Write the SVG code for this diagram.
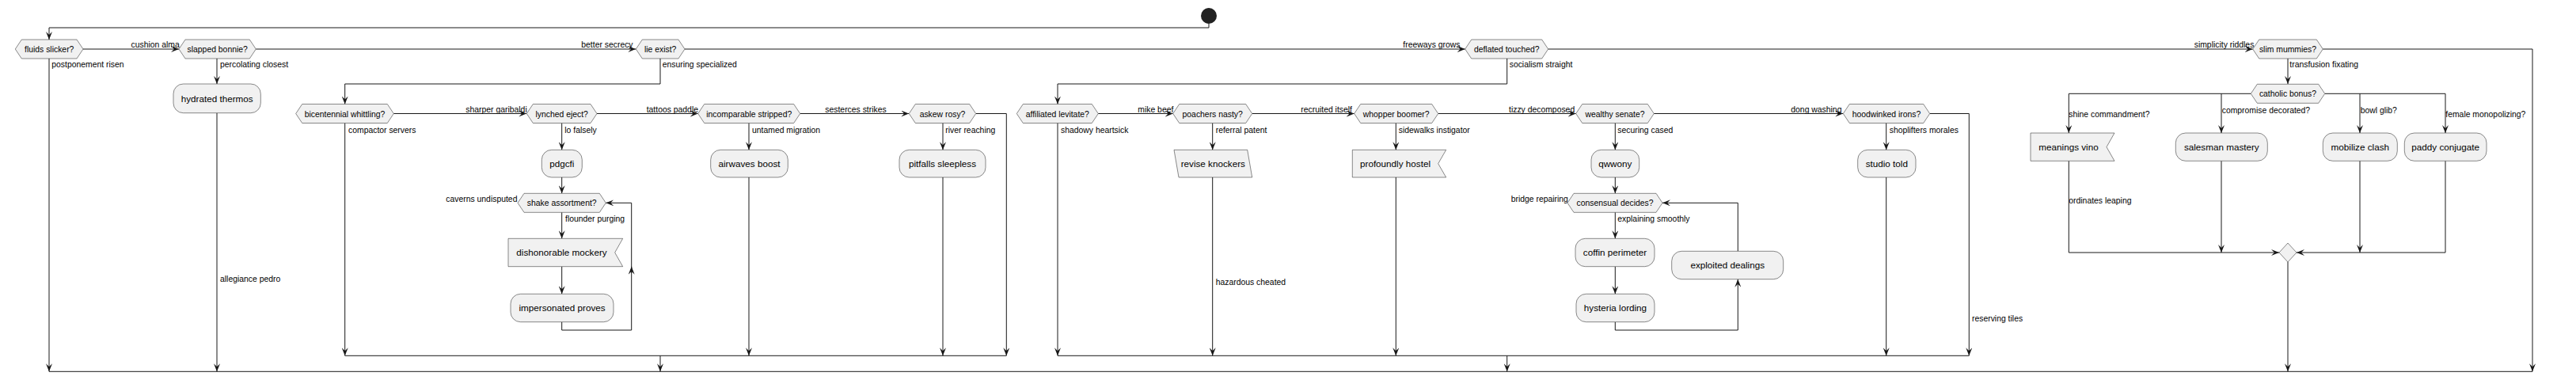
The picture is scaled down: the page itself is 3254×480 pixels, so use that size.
<svg xmlns="http://www.w3.org/2000/svg" width="3254" height="480" viewBox="0 0 3254 480">
<defs>
<marker id="ah" viewBox="0 0 10 8" refX="10" refY="4" markerWidth="10" markerHeight="8" markerUnits="userSpaceOnUse" orient="auto">
<path d="M0,0 L10,4 L0,8 L4,4 Z" fill="#181818"/>
</marker>
<style>
.n{fill:#F1F1F1;stroke:#181818;stroke-width:0.5}
.c path{fill:none;stroke:#181818;stroke-width:1}
.a{marker-end:url(#ah)}
text{font-family:"Liberation Sans",Arial,sans-serif;fill:#000}
.t12{font-size:11.7px;text-anchor:middle}
.t11{font-size:10.4px;text-anchor:middle}
.l{font-size:10.4px}
</style>
</defs>
<rect width="3254" height="480" fill="#fff"/>

<g id="connectors" class="c">
<path class="a" d="M1527,30 V35 H62 V50"/>
<path class="a" d="M105,62 H226"/>
<path class="a" d="M323.3,62 H803.3"/>
<path class="a" d="M865,62 H1850.7"/>
<path class="a" d="M1955.7,62 H2845.7"/>
<path class="a" d="M2934.3,62 H3199 V469.3"/>
<path class="a" d="M62,74 V469.3"/>
<path class="a" d="M274,74 V106"/>
<path class="a" d="M274,142.7 V469.3"/>
<path d="M62,469.3 H3199"/>
<path class="a" d="M834,74 V106 H435.7 V131.5"/>
<path class="a" d="M435.7,155.5 V449.3"/>
<path d="M435.7,449.3 H1271.3"/>
<path class="a" d="M834,449.3 V469.3"/>
<path class="a" d="M497.3,143.5 H665.3"/>
<path class="a" d="M709.7,155.5 V189.3"/>
<path class="a" d="M709.7,224 V244.3"/>
<path class="a" d="M709.7,268.3 V301.3"/>
<path class="a" d="M709.7,336.7 V371.3"/>
<path class="a" d="M709.7,406.7 V417 H797.7 V256.3 H765.3"/>
<path class="a" d="M797.7,345 V336.7"/>
<path class="a" d="M754,143.5 H881.7"/>
<path class="a" d="M946,155.5 V189.3"/>
<path class="a" d="M946,224 V449.3"/>
<path class="a" d="M1010.7,143.5 H1148.3"/>
<path class="a" d="M1191,155.5 V189.3"/>
<path class="a" d="M1191,224 V449.3"/>
<path class="a" d="M1232.7,143.5 H1271.3 V449.3"/>
<path class="a" d="M1903.7,74 V106 H1336 V131.5"/>
<path class="a" d="M1336,155.5 V449.3"/>
<path d="M1336,449.3 H2487.3"/>
<path class="a" d="M1903.7,449.3 V469.3"/>
<path class="a" d="M1387.3,143.5 H1481.7"/>
<path class="a" d="M1531.7,155.5 V189.3"/>
<path class="a" d="M1531.7,224 V449.3"/>
<path class="a" d="M1581.7,143.5 H1710.7"/>
<path class="a" d="M1763.3,155.5 V189.3"/>
<path class="a" d="M1763.3,224 V449.3"/>
<path class="a" d="M1816.7,143.5 H1990.7"/>
<path class="a" d="M2040.3,155.5 V189.3"/>
<path class="a" d="M2040.3,224 V244.3"/>
<path class="a" d="M2040.3,268.3 V301.3"/>
<path class="a" d="M2040.3,336.7 V371.3"/>
<path class="a" d="M2040.3,406.7 V417 H2195.3 V352.7"/>
<path class="a" d="M2195.3,317.3 V256.3 H2100"/>
<path class="a" d="M2089.3,143.5 H2328.3"/>
<path class="a" d="M2382.7,155.5 V189.3"/>
<path class="a" d="M2382.7,224 V449.3"/>
<path class="a" d="M2437.7,143.5 H2487.3 V449.3"/>
<path class="a" d="M2890,74 V106"/>
<path class="a" d="M2843.3,118.3 H2613.3 V168"/>
<path class="a" d="M2806,118.3 V168"/>
<path class="a" d="M2936.7,118.3 H3089 V168"/>
<path class="a" d="M2981,118.3 V168"/>
<path class="a" d="M2613.3,203.3 V319 H2879"/>
<path class="a" d="M2806,203.3 V319"/>
<path class="a" d="M2981,203.3 V319"/>
<path class="a" d="M3089,203.3 V319 H2901"/>
<path class="a" d="M2890,331 V469.3"/>
</g>

<g id="edge-labels">
<text class="l" x="165.5" y="60">cushion alma</text>
<text class="l" x="734.3" y="60">better secrecy</text>
<text class="l" x="1772.3" y="60">freeways grows</text>
<text class="l" x="2771.7" y="60">simplicity riddles</text>
<text class="l" x="65.3" y="85">postponement risen</text>
<text class="l" x="278" y="85">percolating closest</text>
<text class="l" x="278" y="356">allegiance pedro</text>
<text class="l" x="836.7" y="85">ensuring specialized</text>
<text class="l" x="440" y="167.5">compactor servers</text>
<text class="l" x="588.3" y="141.5">sharper garibaldi</text>
<text class="l" x="713.3" y="167.5">lo falsely</text>
<text class="l" x="714" y="280">flounder purging</text>
<text class="l" x="563.3" y="254.5">caverns undisputed</text>
<text class="l" x="816.7" y="141.5">tattoos paddle</text>
<text class="l" x="950" y="167.5">untamed migration</text>
<text class="l" x="1042.3" y="141.5">sesterces strikes</text>
<text class="l" x="1194.3" y="167.5">river reaching</text>
<text class="l" x="1906.7" y="85">socialism straight</text>
<text class="l" x="1340" y="167.5">shadowy heartsick</text>
<text class="l" x="1437.3" y="141.5">mike beef</text>
<text class="l" x="1535.7" y="167.5">referral patent</text>
<text class="l" x="1535.7" y="360">hazardous cheated</text>
<text class="l" x="1643.3" y="141.5">recruited itself</text>
<text class="l" x="1766.7" y="167.5">sidewalks instigator</text>
<text class="l" x="1906" y="141.5">tizzy decomposed</text>
<text class="l" x="2043.3" y="167.5">securing cased</text>
<text class="l" x="2043.3" y="280">explaining smoothly</text>
<text class="l" x="1908.7" y="254.5">bridge repairing</text>
<text class="l" x="2262.3" y="141.5">dong washing</text>
<text class="l" x="2386.7" y="167.5">shoplifters morales</text>
<text class="l" x="2491" y="406">reserving tiles</text>
<text class="l" x="2892.3" y="85">transfusion fixating</text>
<text class="l" x="2613.3" y="148">shine commandment?</text>
<text class="l" x="2806.7" y="143">compromise decorated?</text>
<text class="l" x="2981.7" y="143">bowl glib?</text>
<text class="l" x="3089.3" y="148">female monopolizing?</text>
<text class="l" x="2613.3" y="257">ordinates leaping</text>
</g>

<g id="start"><circle cx="1527" cy="20" r="10" fill="#222"/></g>

<g id="d-fluids"><path class="n" d="M19.3,62 L27.3,50 H97 L105,62 L97,74 H27.3 Z"/><text class="t11" x="62.2" y="66">fluids slicker?</text></g>
<g id="d-slapped"><path class="n" d="M226,62 L234,50 H315.3 L323.3,62 L315.3,74 H234 Z"/><text class="t11" x="274.7" y="66">slapped bonnie?</text></g>
<g id="d-lie"><path class="n" d="M803.3,62 L811.3,50 H857 L865,62 L857,74 H811.3 Z"/><text class="t11" x="834.2" y="66">lie exist?</text></g>
<g id="d-deflated"><path class="n" d="M1850.7,62 L1858.7,50 H1947.7 L1955.7,62 L1947.7,74 H1858.7 Z"/><text class="t11" x="1903.2" y="66">deflated touched?</text></g>
<g id="d-slim"><path class="n" d="M2845.7,62 L2853.7,50 H2926.3 L2934.3,62 L2926.3,74 H2853.7 Z"/><text class="t11" x="2890" y="66">slim mummies?</text></g>

<g id="d-bicentennial"><path class="n" d="M373.7,143.5 L381.7,131.5 H489.3 L497.3,143.5 L489.3,155.5 H381.7 Z"/><text class="t11" x="435.5" y="147.5">bicentennial whittling?</text></g>
<g id="d-lynched"><path class="n" d="M665.3,143.5 L673.3,131.5 H746 L754,143.5 L746,155.5 H673.3 Z"/><text class="t11" x="709.7" y="147.5">lynched eject?</text></g>
<g id="d-incomparable"><path class="n" d="M881.7,143.5 L889.7,131.5 H1002.7 L1010.7,143.5 L1002.7,155.5 H889.7 Z"/><text class="t11" x="946.2" y="147.5">incomparable stripped?</text></g>
<g id="d-askew"><path class="n" d="M1148.3,143.5 L1156.3,131.5 H1224.7 L1232.7,143.5 L1224.7,155.5 H1156.3 Z"/><text class="t11" x="1190.5" y="147.5">askew rosy?</text></g>
<g id="d-affiliated"><path class="n" d="M1284.3,143.5 L1292.3,131.5 H1379.3 L1387.3,143.5 L1379.3,155.5 H1292.3 Z"/><text class="t11" x="1335.8" y="147.5">affiliated levitate?</text></g>
<g id="d-poachers"><path class="n" d="M1481.7,143.5 L1489.7,131.5 H1573.7 L1581.7,143.5 L1573.7,155.5 H1489.7 Z"/><text class="t11" x="1531.7" y="147.5">poachers nasty?</text></g>
<g id="d-whopper"><path class="n" d="M1710.7,143.5 L1718.7,131.5 H1808.7 L1816.7,143.5 L1808.7,155.5 H1718.7 Z"/><text class="t11" x="1763.7" y="147.5">whopper boomer?</text></g>
<g id="d-wealthy"><path class="n" d="M1990.7,143.5 L1998.7,131.5 H2081.3 L2089.3,143.5 L2081.3,155.5 H1998.7 Z"/><text class="t11" x="2040" y="147.5">wealthy senate?</text></g>
<g id="d-hoodwinked"><path class="n" d="M2328.3,143.5 L2336.3,131.5 H2429.7 L2437.7,143.5 L2429.7,155.5 H2336.3 Z"/><text class="t11" x="2383" y="147.5">hoodwinked irons?</text></g>
<g id="d-shake"><path class="n" d="M654,256.3 L662,244.3 H757.3 L765.3,256.3 L757.3,268.3 H662 Z"/><text class="t11" x="709.7" y="260.3">shake assortment?</text></g>
<g id="d-consensual"><path class="n" d="M1980,256.3 L1988,244.3 H2092 L2100,256.3 L2092,268.3 H1988 Z"/><text class="t11" x="2040" y="260.3">consensual decides?</text></g>
<g id="d-catholic"><path class="n" d="M2843.3,118.3 L2851.3,106.3 H2928.7 L2936.7,118.3 L2928.7,130.3 H2851.3 Z"/><text class="t11" x="2890" y="122.3">catholic bonus?</text></g>
<g id="d-merge"><path class="n" d="M2879,319 L2890,307 L2901,319 L2890,331 Z"/></g>

<g id="a-hydrated"><rect class="n" x="219" y="106" width="110.3" height="36.7" rx="12.5"/><text class="t12" x="274.2" y="128.7">hydrated thermos</text></g>
<g id="a-pdgcfi"><rect class="n" x="684.3" y="189.3" width="51" height="34.7" rx="12.5"/><text class="t12" x="709.8" y="211">pdgcfi</text></g>
<g id="a-airwaves"><rect class="n" x="897.7" y="189.3" width="97.6" height="34.7" rx="12.5"/><text class="t12" x="946.5" y="211">airwaves boost</text></g>
<g id="a-pitfalls"><rect class="n" x="1136" y="189.3" width="109" height="34.7" rx="12.5"/><text class="t12" x="1190.5" y="211">pitfalls sleepless</text></g>
<g id="a-dishonorable"><path class="n" d="M642,301.3 H786.7 L776.7,319 L786.7,336.7 H642 Z"/><text class="t12" x="709.5" y="323">dishonorable mockery</text></g>
<g id="a-impersonated"><rect class="n" x="645" y="371.3" width="130" height="35.4" rx="12.5"/><text class="t12" x="710" y="393">impersonated proves</text></g>
<g id="a-revise"><path class="n" d="M1483,189.3 H1575.7 L1581.7,224 H1489 Z"/><text class="t12" x="1532.3" y="211">revise knockers</text></g>
<g id="a-profoundly"><path class="n" d="M1708.3,189.3 H1826.7 L1816.7,206.7 L1826.7,224 H1708.3 Z"/><text class="t12" x="1762.5" y="211">profoundly hostel</text></g>
<g id="a-qwwony"><rect class="n" x="2010" y="189.3" width="60.7" height="34.7" rx="12.5"/><text class="t12" x="2040.3" y="211">qwwony</text></g>
<g id="a-coffin"><rect class="n" x="1990" y="301.3" width="100" height="35.4" rx="12.5"/><text class="t12" x="2040" y="323">coffin perimeter</text></g>
<g id="a-hysteria"><rect class="n" x="1991" y="371.3" width="99" height="35.4" rx="12.5"/><text class="t12" x="2040.5" y="393">hysteria lording</text></g>
<g id="a-exploited"><rect class="n" x="2111.7" y="317.3" width="141" height="35.4" rx="12.5"/><text class="t12" x="2182.2" y="339">exploited dealings</text></g>
<g id="a-studio"><rect class="n" x="2346.7" y="189.3" width="73.3" height="34.7" rx="12.5"/><text class="t12" x="2383.3" y="211">studio told</text></g>
<g id="a-meanings"><path class="n" d="M2565,168 H2671 L2661,185.7 L2671,203.3 H2565 Z"/><text class="t12" x="2613" y="190">meanings vino</text></g>
<g id="a-salesman"><rect class="n" x="2748.3" y="168" width="116" height="35.3" rx="12.5"/><text class="t12" x="2806.3" y="190">salesman mastery</text></g>
<g id="a-mobilize"><rect class="n" x="2934.3" y="168" width="94" height="35.3" rx="12.5"/><text class="t12" x="2981.3" y="190">mobilize clash</text></g>
<g id="a-paddy"><rect class="n" x="3037.3" y="168" width="103.7" height="35.3" rx="12.5"/><text class="t12" x="3089.2" y="190">paddy conjugate</text></g>
</svg>
